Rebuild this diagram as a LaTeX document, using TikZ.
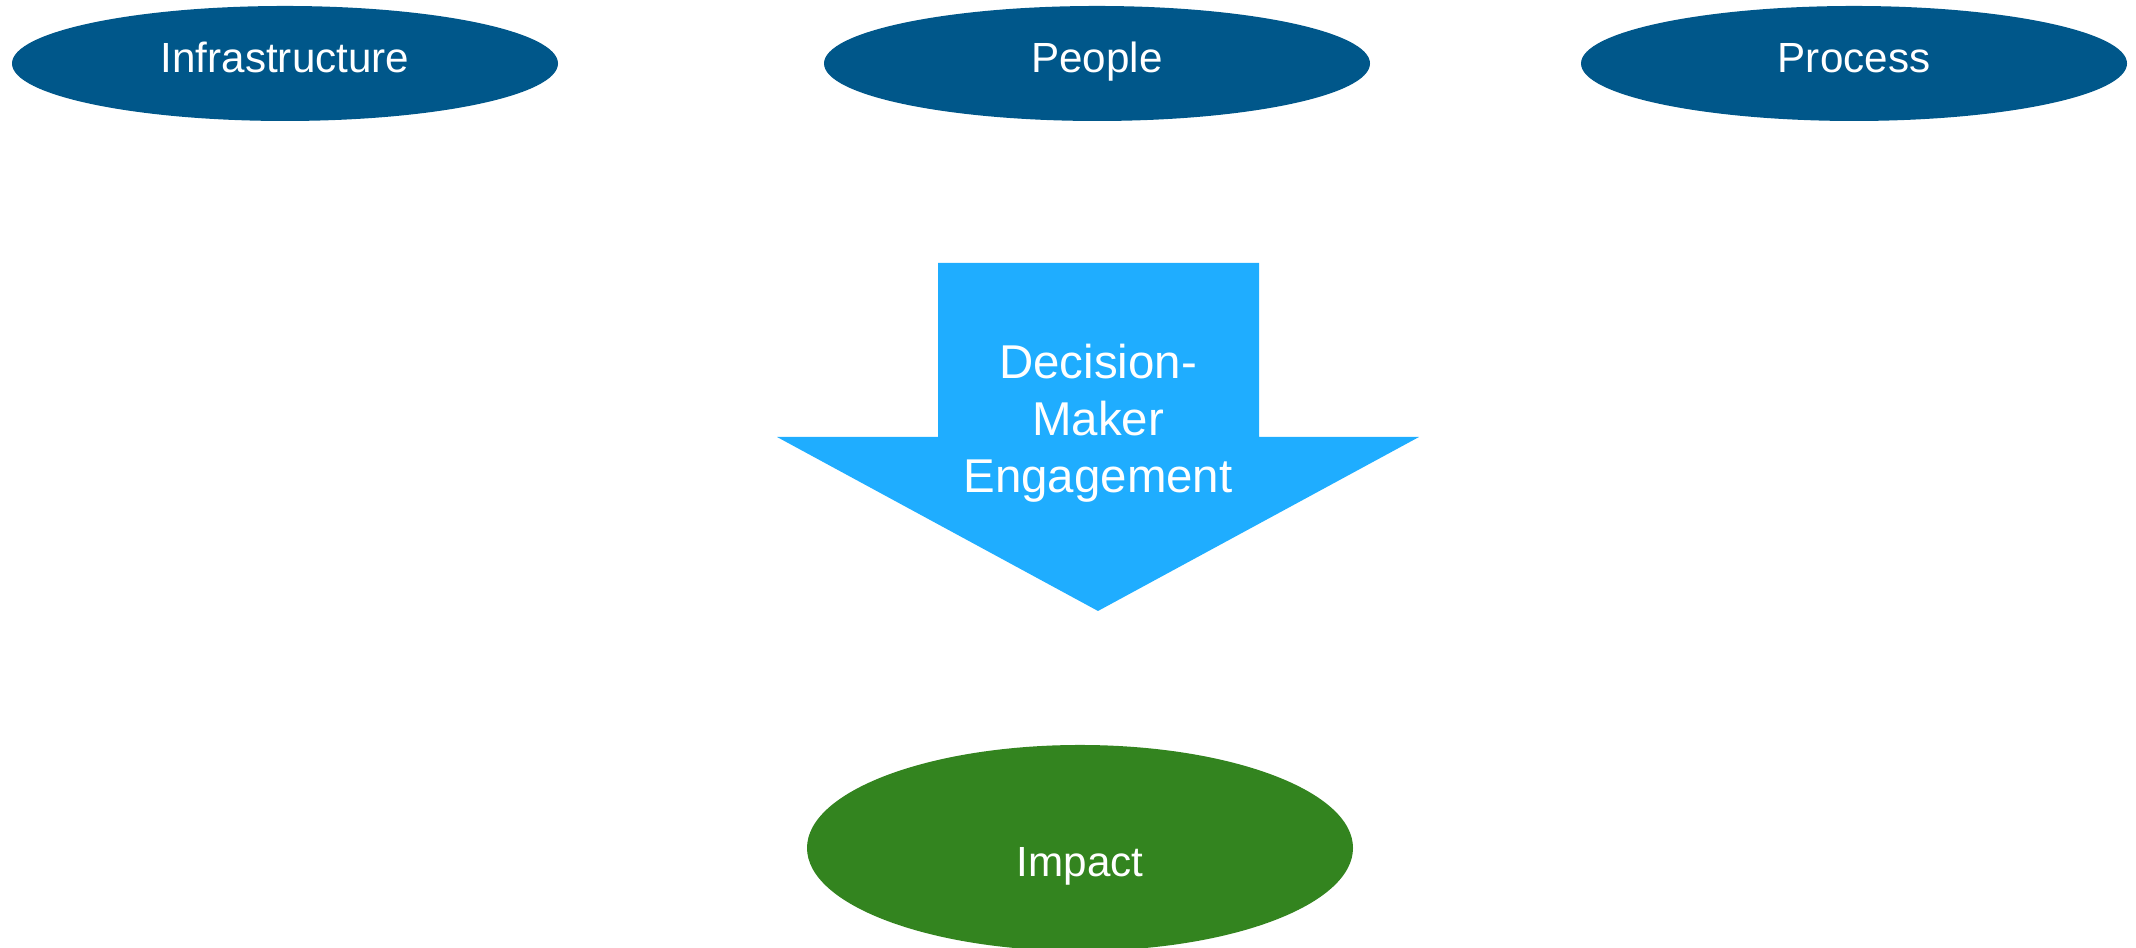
\documentclass[tikz,border=0pt]{standalone}
\usepackage{fontspec}
\setmainfont{Liberation Sans}
\usetikzlibrary{shapes.geometric}
\definecolor{pillarblue}{RGB}{0,87,138}
\definecolor{arrowblue}{RGB}{31,173,255}
\definecolor{impactgreen}{RGB}{51,132,31}

\begin{document}
\begin{tikzpicture}[
        pillar/.style={ellipse, fill=pillarblue, text=white, inner sep=0pt,
            minimum width=5.46cm, minimum height=1.15cm,
            font=\fontsize{12}{14}\selectfont, text height=0.72em, text depth=0.21em},
        goal/.style={ellipse, fill=impactgreen, inner sep=0pt,
            minimum width=5.46cm, minimum height=2.06cm},
        caption/.style={text=white, align=center, inner sep=0pt}
    ]
        \useasboundingbox (0,0) rectangle (21.36,9.48);

        \node[pillar] (infra) at (2.85,8.845) {Infrastructure};
        \node[pillar] (people) at (10.97,8.845) {People};
        \node[pillar] (process) at (18.54,8.845) {Process};

        \coordinate (TL) at (9.38,6.85);
        \coordinate (TR) at (12.59,6.85);
        \coordinate (BL) at (9.38,5.11);
        \coordinate (BR) at (12.59,5.11);
        \coordinate (WL) at (7.77,5.11);
        \coordinate (WR) at (14.19,5.11);
        \coordinate (T) at (10.98,3.37);

        \fill[arrowblue] (TL)--(BL)--(WL)--(T)--(WR)--(BR)--(TR)--cycle;
        \node[caption, font=\fontsize{13.5}{16.2}\selectfont] (engage) at (10.98,5.25) {Decision-\\Maker\\Engagement};

        \node[goal] (impact) at (10.80,1.0) {};
        \node[caption, font=\fontsize{12}{14}\selectfont] (impacttext) at ([yshift=-0.18cm]impact.center) {Impact};

    \end{tikzpicture}
\end{document}
